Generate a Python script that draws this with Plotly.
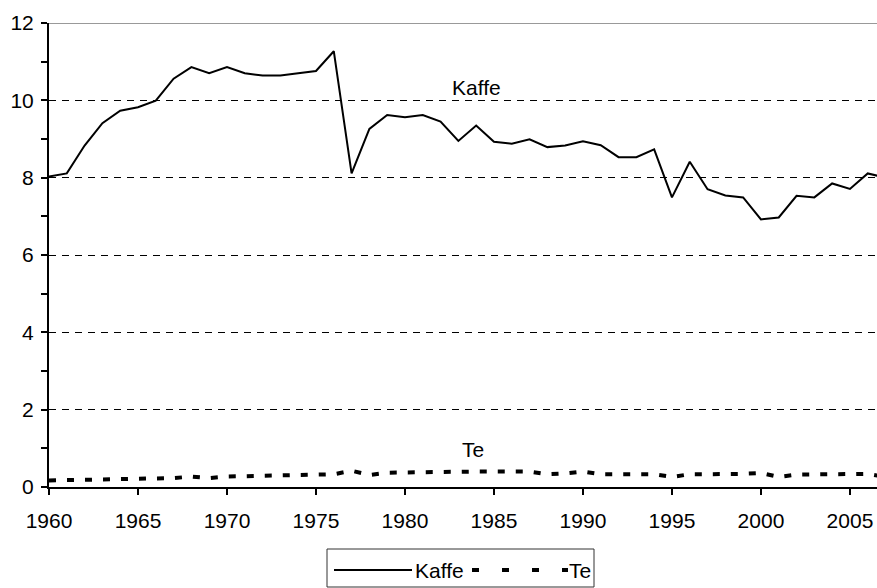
import plotly.graph_objects as go

years = list(range(1960, 2008))
kaffe = [8.03, 8.11, 8.83, 9.41, 9.73, 9.82, 9.99, 10.56, 10.86, 10.70,
         10.86, 10.70, 10.64, 10.64, 10.70, 10.76, 11.27, 8.11, 9.26, 9.62,
         9.56, 9.62, 9.45, 8.95, 9.35, 8.93, 8.88, 8.99, 8.79, 8.83,
         8.94, 8.84, 8.53, 8.53, 8.73, 7.49, 8.41, 7.70, 7.54, 7.49,
         6.92, 6.97, 7.53, 7.49, 7.85, 7.71, 8.11, 8.00]
te = [0.17, 0.18, 0.18, 0.18, 0.19, 0.21, 0.22, 0.23, 0.27, 0.23,
      0.27, 0.28, 0.29, 0.29, 0.32, 0.33, 0.33, 0.42, 0.31, 0.37,
      0.38, 0.38, 0.39, 0.40, 0.40, 0.40, 0.40, 0.40, 0.33, 0.35,
      0.40, 0.33, 0.33, 0.33, 0.33, 0.26, 0.33, 0.33, 0.33, 0.34,
      0.36, 0.26, 0.32, 0.33, 0.33, 0.33, 0.34, 0.26]
x_ticks = list(range(1960, 2006, 5))
series_names = ["Kaffe", "Te"]

FONT = "Liberation Sans, Arial, sans-serif"
FS = 21
W, H = 877, 588
L, R, T, B = 49, 0, 23, 101
PW, PH = W - L - R, H - T - B

def px(x):
    return (x - L) / PW

def py(y):
    return (H - B - y) / PH

TE_DASH = "7px,11px"
GRID_DASH = "7px,6px"

fig = go.Figure()
fig.add_trace(go.Scatter(x=years, y=kaffe, mode="lines", name=series_names[0],
                         line=dict(color="black", width=2), showlegend=False))
fig.add_trace(go.Scatter(x=years, y=te, mode="lines", name=series_names[1],
                         line=dict(color="black", width=4, dash=TE_DASH),
                         showlegend=False))

shapes = [
    dict(type="line", xref="paper", yref="y", x0=0, x1=1, y0=12, y1=12,
         line=dict(color="#999999", width=2), layer="below"),
    dict(type="rect", xref="paper", yref="paper", x0=px(327), x1=px(594),
         y0=py(549), y1=py(587), line=dict(color="#333333", width=1),
         fillcolor="white"),
    dict(type="line", xref="paper", yref="paper", x0=px(334), x1=px(412),
         y0=py(570), y1=py(570), line=dict(color="black", width=2)),
    dict(type="line", xref="paper", yref="paper", x0=px(472), x1=px(568),
         y0=py(570), y1=py(570), line=dict(color="black", width=4, dash="7px,23px")),
]

annotations = [
    dict(text=series_names[0], x=1984.0, y=10.34, xref="x", yref="y",
         showarrow=False, font=dict(family=FONT, size=FS, color="black")),
    dict(text=series_names[1], x=1983.8, y=0.98, xref="x", yref="y",
         showarrow=False, font=dict(family=FONT, size=FS, color="black")),
    dict(text=series_names[0], x=px(413), y=py(570), xref="paper", yref="paper",
         xanchor="left", yanchor="middle", showarrow=False,
         font=dict(family=FONT, size=FS, color="black")),
    dict(text=series_names[1], x=px(567), y=py(570), xref="paper", yref="paper",
         xanchor="left", yanchor="middle", showarrow=False,
         font=dict(family=FONT, size=FS, color="black")),
]

fig.update_layout(
    width=W, height=H,
    margin=dict(l=L, r=R, t=T, b=B, pad=0, autoexpand=False),
    paper_bgcolor="white", plot_bgcolor="white",
    font=dict(family=FONT, size=FS, color="black"),
    showlegend=False,
    shapes=shapes,
    annotations=annotations,
    xaxis=dict(range=[1960, 2006.52], tickvals=x_ticks,
               ticks="outside", ticklen=6, tickwidth=1.5, tickcolor="black",
               ticklabelstandoff=8,
               showline=True, linecolor="black", linewidth=2,
               showgrid=False, zeroline=False, automargin=False,
               tickfont=dict(family=FONT, size=FS, color="black")),
    yaxis=dict(range=[0, 12], dtick=2, tick0=0,
               ticks="outside", ticklen=6, tickwidth=1.5, tickcolor="black",
               ticklabelstandoff=3,
               showline=True, linecolor="black", linewidth=2,
               showgrid=True, gridcolor="black", gridwidth=1, griddash=GRID_DASH,
               zeroline=False, automargin=False,
               minor=dict(dtick=1, tick0=0, ticks="outside", ticklen=6,
                          tickwidth=1.5, tickcolor="black", showgrid=False),
               tickfont=dict(family=FONT, size=FS, color="black")),
)

fig.write_html("out.html", config={"displayModeBar": False},
               post_script="document.body.style.margin='0';document.body.style.overflow='hidden';")
